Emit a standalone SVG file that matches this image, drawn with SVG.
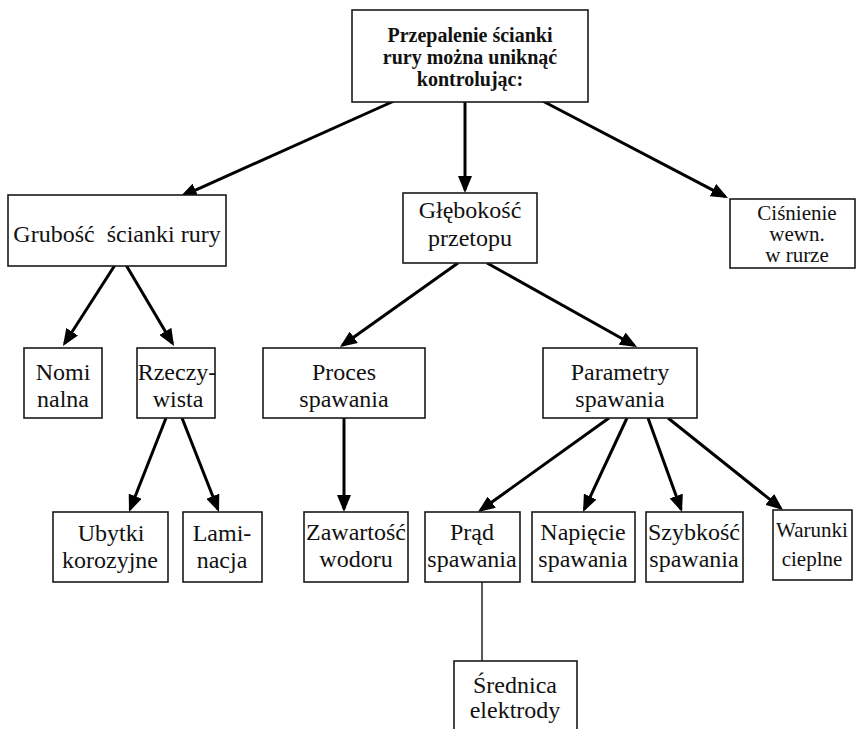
<svg xmlns="http://www.w3.org/2000/svg" width="856" height="729" viewBox="0 0 856 729">
<style>
  .box { fill: #fff; stroke: #1a1a1a; stroke-width: 1.6; }
  text { font-family: 'Liberation Serif', 'DejaVu Serif', serif; font-size: 24px; fill: #111; text-anchor: middle; white-space: pre; }
  .tb { font-weight: bold; font-size: 20px; }
  .ts { font-size: 21px; }
  .tc { font-size: 21px; }
  .c { stroke: #000; stroke-width: 3; fill: none; marker-end: url(#ah); }
  .thin { stroke: #000; stroke-width: 1.3; fill: none; }
</style>
<defs>
  <marker id="ah" markerUnits="userSpaceOnUse" markerWidth="17" markerHeight="14" viewBox="0 0 17 14" refX="14" refY="7" orient="auto">
    <path d="M0,0 L17,7 L0,14 z" fill="#000"/>
  </marker>
</defs>
<rect width="856" height="729" fill="#fff"/>
<g id="connectors">
  <line class="c" x1="403" y1="97" x2="182.7" y2="195.8"/>
  <line class="c" x1="465" y1="100" x2="465" y2="190"/>
  <line class="c" x1="535" y1="97" x2="725.3" y2="196.6"/>
  <line class="c" x1="115" y1="265" x2="64.6" y2="343.5"/>
  <line class="c" x1="126" y1="265" x2="172.5" y2="343.4"/>
  <line class="c" x1="166" y1="418" x2="130.1" y2="509.2"/>
  <line class="c" x1="182" y1="418" x2="217.9" y2="509.2"/>
  <line class="c" x1="458" y1="263" x2="342.4" y2="345.3"/>
  <line class="c" x1="487" y1="263" x2="634.4" y2="345.5"/>
  <line class="c" x1="344" y1="418" x2="344" y2="509"/>
  <line class="c" x1="609" y1="418" x2="480.4" y2="510.3"/>
  <line class="c" x1="627" y1="418" x2="584.3" y2="509.3"/>
  <line class="c" x1="648" y1="418" x2="681" y2="509.2"/>
  <line class="c" x1="668" y1="418" x2="780.7" y2="508.1"/>
  <line class="thin" x1="482" y1="582" x2="482" y2="661"/>
</g>
<g id="root">
  <rect class="box" x="352" y="10" width="236" height="92"/>
  <text class="tb" x="470" y="42">Przepalenie ścianki</text>
  <text class="tb" x="470" y="64">rury można uniknąć</text>
  <text class="tb" x="470" y="86">kontrolując:</text>
</g>
<g id="grubosc">
  <rect class="box" x="8" y="195" width="218" height="71"/>
  <text x="117" y="242">Grubość  ścianki rury</text>
</g>
<g id="glebokosc">
  <rect class="box" x="403" y="193" width="134" height="70"/>
  <text x="470" y="218">Głębokość</text>
  <text x="470" y="246">przetopu</text>
</g>
<g id="cisnienie">
  <rect class="box" x="730" y="199" width="125" height="69"/>
  <text class="tc" x="797" y="220">Ciśnienie</text>
  <text class="tc" x="797" y="241">wewn.</text>
  <text class="tc" x="797" y="262">w rurze</text>
</g>
<g id="nominalna">
  <rect class="box" x="24" y="348" width="78" height="70"/>
  <text x="63" y="380">Nomi</text>
  <text x="63" y="407">nalna</text>
</g>
<g id="rzeczywista">
  <rect class="box" x="137" y="348" width="78" height="70"/>
  <text x="177" y="380">Rzeczy-</text>
  <text x="178" y="407">wista</text>
</g>
<g id="proces">
  <rect class="box" x="263" y="348" width="162" height="70"/>
  <text x="344" y="380">Proces</text>
  <text x="344" y="407">spawania</text>
</g>
<g id="parametry">
  <rect class="box" x="543" y="348" width="154" height="70"/>
  <text x="620" y="380">Parametry</text>
  <text x="620" y="407">spawania</text>
</g>
<g id="ubytki">
  <rect class="box" x="53" y="512" width="115" height="70"/>
  <text x="111" y="541">Ubytki</text>
  <text x="110" y="568">korozyjne</text>
</g>
<g id="laminacja">
  <rect class="box" x="183" y="512" width="79" height="70"/>
  <text x="222" y="541">Lami-</text>
  <text x="222" y="568">nacja</text>
</g>
<g id="zawartosc">
  <rect class="box" x="304" y="512" width="104" height="70"/>
  <text x="356" y="540">Zawartość</text>
  <text x="356" y="567">wodoru</text>
</g>
<g id="prad">
  <rect class="box" x="425" y="512" width="95" height="70"/>
  <text x="472" y="540">Prąd</text>
  <text x="472" y="567">spawania</text>
</g>
<g id="napiecie">
  <rect class="box" x="532" y="512" width="103" height="70"/>
  <text x="583" y="540">Napięcie</text>
  <text x="583" y="567">spawania</text>
</g>
<g id="szybkosc">
  <rect class="box" x="646" y="512" width="97" height="70"/>
  <text x="694" y="540">Szybkość</text>
  <text x="694" y="567">spawania</text>
</g>
<g id="warunki">
  <rect class="box" x="773" y="510" width="79" height="70"/>
  <text class="ts" x="812" y="537">Warunki</text>
  <text class="ts" x="812" y="566">cieplne</text>
</g>
<g id="srednica">
  <rect class="box" x="454" y="661" width="123" height="80"/>
  <text x="515" y="693">Średnica</text>
  <text x="515" y="718">elektrody</text>
</g>
</svg>
